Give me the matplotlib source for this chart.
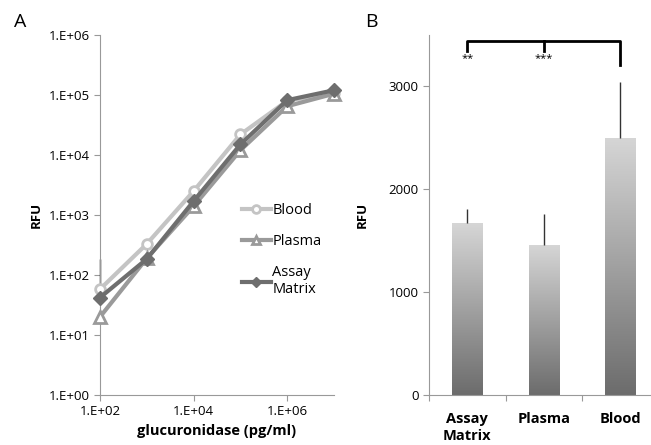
import numpy as np
import matplotlib.pyplot as plt
from matplotlib.colors import LinearSegmentedColormap
from matplotlib.ticker import FixedLocator, NullLocator

plt.rcParams['font.family'] = ['Open Sans', 'DejaVu Sans']

# panel A: dose response
conc = [1e2, 1e3, 1e4, 1e5, 1e6, 1e7]
blood = [58, 330, 2500, 22000, 80000, 110000]
plasma = [20, 190, 1400, 12000, 65000, 105000]
assay = [42, 185, 1700, 15000, 82000, 120000]
assay_err_up = [140, 0, 0, 0, 0, 0]

# panel B: bars
groups = ['Assay\nMatrix', 'Plasma', 'Blood']
rfu = [1670, 1460, 2500]
rfu_err = [140, 300, 540]

fig = plt.figure(figsize=(6.51, 4.45), dpi=100)

ax = fig.add_axes([100/651, 50/445, 234/651, 360/445])
ax.plot(conc, blood, color='#c4c4c4', lw=3, marker='o', ms=7, mfc='white',
        mec='#c4c4c4', mew=2, label='Blood', zorder=3, clip_on=False)
ax.plot(conc, plasma, color='#9a9a9a', lw=3, marker='^', ms=8, mfc='white',
        mec='#9a9a9a', mew=2, label='Plasma', zorder=3, clip_on=False)
ax.plot(conc, assay, color='#6e6e6e', lw=3, marker='D', ms=7, mfc='#6e6e6e',
        mec='#6e6e6e', label='Assay\nMatrix', zorder=4, clip_on=False)
eb = ax.errorbar(conc[:1], assay[:1], yerr=[[0], assay_err_up[:1]], fmt='none',
                 ecolor='black', elinewidth=1, zorder=2)
for c in eb.get_children():
    c.set_clip_on(False)
ax.set_xscale('log')
ax.set_yscale('log')
ax.set_xlim(1e2, 1e7)
ax.set_ylim(1, 1e6)
ax.xaxis.set_major_locator(FixedLocator([1e2, 1e4, 1e6]))
ax.xaxis.set_minor_locator(NullLocator())
ax.set_xticklabels(['1.E+02', '1.E+04', '1.E+06'])
ax.yaxis.set_major_locator(FixedLocator([1e0, 1e1, 1e2, 1e3, 1e4, 1e5, 1e6]))
ax.yaxis.set_minor_locator(NullLocator())
ax.set_yticklabels(['1.E+00', '1.E+01', '1.E+02', '1.E+03', '1.E+04',
                    '1.E+05', '1.E+06'])
for s in ['top', 'right']:
    ax.spines[s].set_visible(False)
for s in ['left', 'bottom']:
    ax.spines[s].set_color('#999999')
ax.tick_params(colors='#999999', labelcolor='black', labelsize=9.5, length=4)
ax.set_xlabel('glucuronidase (pg/ml)', fontsize=10.5, fontweight='bold')
ax.set_ylabel('RFU', fontsize=9.5, fontweight='bold', labelpad=4)
ax.legend(loc='upper left', bbox_to_anchor=(0.55, 0.57), frameon=False,
          fontsize=10.5, handlelength=2.0, handletextpad=0.1, labelspacing=1.1,
          markerscale=0.8)
fig.text(14/651, 1 - 22/445, 'A', fontsize=14, va='center')

bx = fig.add_axes([429/651, 50/445, 222/651, 360/445])
x = np.arange(len(groups))
bars = bx.bar(x, rfu, width=0.4, color='none', zorder=2)
shade = LinearSegmentedColormap.from_list('shade', ['#6c6c6c', '#d6d6d6'])
grad = np.linspace(0, 1, 256).reshape(-1, 1)
for b in bars:
    x0, y0, w, h = b.get_x(), b.get_y(), b.get_width(), b.get_height()
    im = bx.imshow(grad, cmap=shade, aspect='auto',
                   extent=[x0, x0 + w, y0, y0 + h], origin='lower', zorder=2)
    im.set_clip_path(b)
bx.errorbar(x, rfu, yerr=[[0] * 3, rfu_err], fmt='none', ecolor='#333333',
            elinewidth=1, zorder=3)
bx.set_xlim(-0.5, 2.4)
bx.set_ylim(0, 3500)
bx.set_yticks([0, 1000, 2000, 3000])
bx.set_xticks([-0.5, 0.5, 1.5])
bx.set_xticklabels([])
for i, g in enumerate(groups):
    bx.text(i, -170, g, ha='center', va='top', fontsize=10.5, fontweight='bold',
            linespacing=1.2)
for s in ['top', 'right']:
    bx.spines[s].set_visible(False)
for s in ['left', 'bottom']:
    bx.spines[s].set_color('#999999')
bx.tick_params(colors='#999999', labelcolor='black', labelsize=9.5, length=4)
bx.set_ylabel('RFU', fontsize=9.5, fontweight='bold', labelpad=14)

# significance bracket
top = 3440
bx.plot([0, 0, 2, 2], [top - 100, top, top, top - 230], color='black', lw=2,
        clip_on=False)
bx.plot([1, 1], [top, top - 100], color='black', lw=2)
bx.text(0, 3270, '**', ha='center', va='center', fontsize=8)
bx.text(1, 3270, '***', ha='center', va='center', fontsize=8)
fig.text(365/651, 1 - 22/445, 'B', fontsize=14, va='center')

fig.savefig('out.png', dpi=100)
